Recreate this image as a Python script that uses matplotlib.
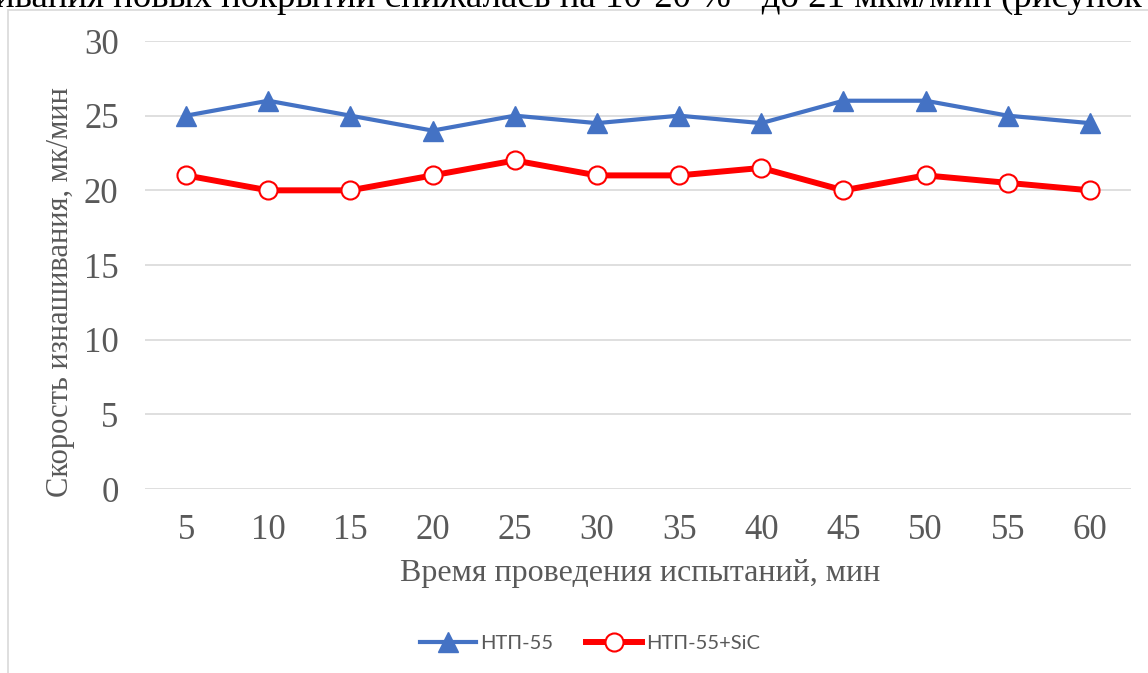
import matplotlib.pyplot as plt
from matplotlib.patches import Rectangle

W, H = 1148, 673

time_min = [5, 10, 15, 20, 25, 30, 35, 40, 45, 50, 55, 60]
ntp55 = [25, 26, 25, 24, 25, 24.5, 25, 24.5, 26, 26, 25, 24.5]
ntp55_sic = [21, 20, 20, 21, 22, 21, 21, 21.5, 20, 21, 20.5, 20]
yticks = [0, 5, 10, 15, 20, 25, 30]

blue = "#4472C4"
red = "#FF0000"
grey = "#595959"
serif = ["Liberation Serif", "DejaVu Serif"]
sans = ["Lato", "DejaVu Sans"]

fig = plt.figure(figsize=(W / 100, H / 100), dpi=100)

# cut-off line of document text above the chart
fig.text(-5 / W, 1 - 7 / H,
         "ивания новых покрытий снижалась на 10-20 % - до 21 мкм/мин (рисунок",
         family=serif, fontsize=26.6, color="black", ha="left", va="baseline")

# chart frame (runs off right and bottom edges)
fig.patches.append(Rectangle((8 / W, -0.1), 1.1, 1 - 10 / H + 0.1,
                             transform=fig.transFigure, fill=True,
                             facecolor="white", edgecolor="#D9D9D9",
                             linewidth=1.2, zorder=2))

# plot area in pixel coords
left, right, top, bottom = 145, 1131, 41, 489
ax = fig.add_axes([left / W, 1 - bottom / H, (right - left) / W, (bottom - top) / H])
ax.set_zorder(3)
ax.patch.set_alpha(0)

x = list(range(len(time_min)))
ax.plot(x, ntp55, color=blue, lw=3, marker="^", ms=14.5,
        mfc=blue, mec=blue, label="НТП-55", zorder=3)
ax.plot(x, ntp55_sic, color=red, lw=4.3, marker="o", ms=13,
        mfc="white", mec=red, mew=1.5, label="НТП-55+SiC", zorder=3)

ax.set_xlim(-0.5, len(x) - 0.5)
ax.set_ylim(0, 30)
ax.set_yticks(yticks)
ax.set_xticks(x)
ax.set_xticklabels([str(t) for t in time_min])
ax.grid(axis="y", color="#D9D9D9", lw=1.2)
ax.set_axisbelow(True)
for s in ax.spines.values():
    s.set_visible(False)
ax.tick_params(length=0, labelsize=25, labelcolor=grey)
for lab in ax.get_xticklabels() + ax.get_yticklabels():
    lab.set_family(serif)
ax.tick_params(axis="x", pad=18)
ax.tick_params(axis="y", pad=19)

fig.text(640 / W, 1 - 574 / H, "Время проведения испытаний, мин",
         family=serif, fontsize=23, color=grey, ha="center", va="center",
         zorder=4)
fig.text(61 / W, 1 - 292 / H, "Скорость изнашивания, мк/мин",
         family=serif, fontsize=22, color=grey, ha="center", va="center",
         rotation=90, zorder=4)

leg = fig.legend(loc="center", bbox_to_anchor=(590 / W, 1 - 643 / H),
                 ncol=2, frameon=False, handlelength=2.8, handletextpad=0.2,
                 columnspacing=1.6, prop={"family": sans, "size": 14.5})
leg.set_zorder(4)
for t in leg.get_texts():
    t.set_color(grey)

fig.savefig("out.png", dpi=100)
